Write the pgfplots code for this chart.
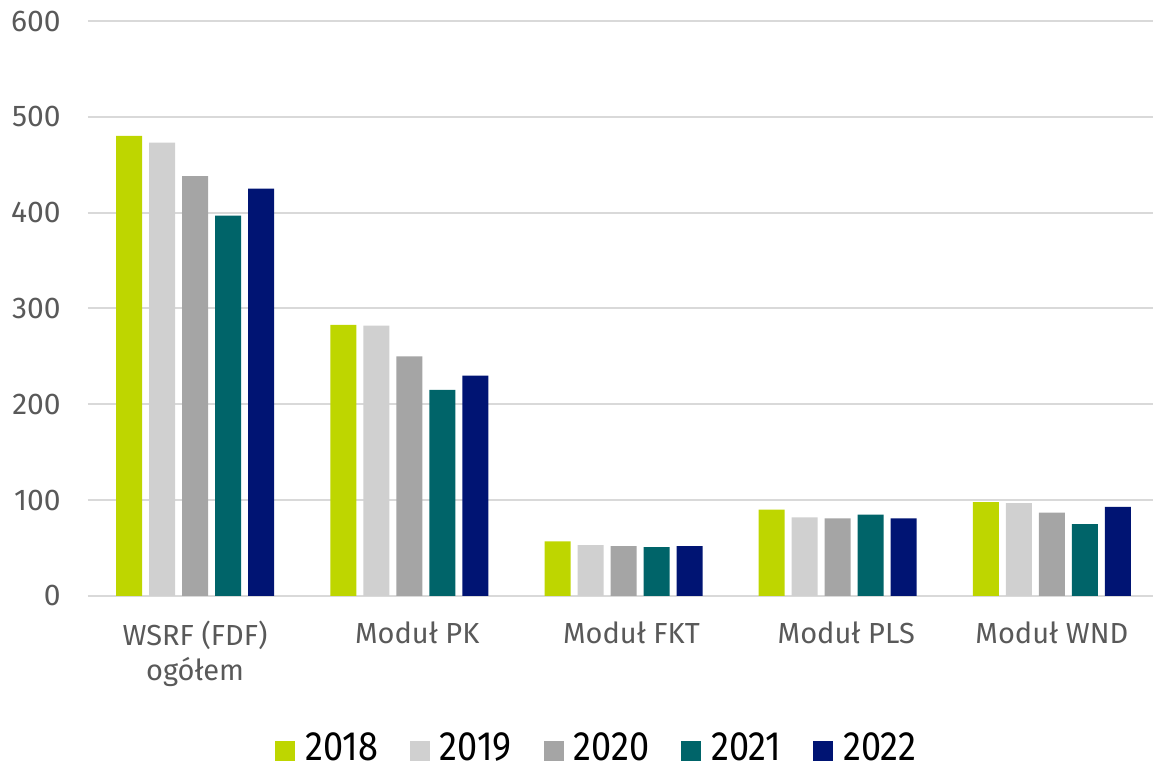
\documentclass[border=0pt]{standalone}
\usepackage{fontspec}
\setmainfont{Fira Sans}
\usepackage{graphicx}
\usepackage{pgfplots}
\pgfplotsset{compat=1.18}
\definecolor{c18}{HTML}{BED600}
\definecolor{c19}{HTML}{D0D0D0}
\definecolor{c20}{HTML}{A5A5A5}
\definecolor{c21}{HTML}{006469}
\definecolor{c22}{HTML}{001473}
\definecolor{gridc}{HTML}{D9D9D9}
\definecolor{tickc}{HTML}{595959}
\pgfplotsset{sq/.style={fill=#1, draw=none,
  legend image code/.code={\fill[#1] (0pt,-6.5pt) rectangle (10pt,3.5pt);}}}
\begin{document}
\begin{tikzpicture}
\begin{axis}[
  at={(0,0)}, anchor=south west,
  scale only axis, width=532.5pt, height=287.5pt,
  xmin=-0.5, xmax=4.472, ymin=0, ymax=600,
  ytick={0,100,...,600},
  xtick={0,1.037,2.037,3.04,4.0},
  xticklabels={{WSRF (FDF)\\ogółem},{Moduł PK},{Moduł FKT},{Moduł PLS},{Moduł WND}},
  axis line style={draw=none},
  major tick length=0pt,
  ymajorgrids, grid style={draw=gridc, line width=1pt},
  ybar=3.5pt, bar width=13pt,
  /pgf/number format/assume math mode=true,
  yticklabel style={font=\fontsize{15}{18}\selectfont, text=tickc, inner sep=0pt, anchor=east, xshift=-13.5pt},
  xticklabel style={font=\fontsize{14.5}{17.5}\selectfont, text=tickc, inner sep=0pt, anchor=north, yshift=-12.5pt, align=center},
  legend columns=5,
  legend style={at={(0.477,0)}, anchor=center, yshift=-76pt, draw=none, fill=none,
    font=\fontsize{20.5}{24}\selectfont, text=black,
    /tikz/every odd column/.append style={column sep=5pt},
    /tikz/every even column/.append style={column sep=16pt},
    nodes={inner sep=0pt}},
]
\addplot[sq=c18] coordinates {(0,480) (1,283) (2,57) (3,90) (4,98)};
\addlegendentry{\scalebox{0.88}[1]{2018}}
\addplot[sq=c19] coordinates {(0,473) (1,282) (2,53) (3,82) (4,97)};
\addlegendentry{\scalebox{0.88}[1]{2019}}
\addplot[sq=c20] coordinates {(0,438) (1,250) (2,52) (3,81) (4,87)};
\addlegendentry{\scalebox{0.88}[1]{2020}}
\addplot[sq=c21] coordinates {(0,397) (1,215) (2,51) (3,85) (4,75)};
\addlegendentry{\scalebox{0.88}[1]{2021}}
\addplot[sq=c22] coordinates {(0,425) (1,230) (2,52) (3,81) (4,93)};
\addlegendentry{\scalebox{0.88}[1]{2022}}
\end{axis}
\pgfresetboundingbox
\path (-44pt,-84pt) rectangle (532.5pt,298pt);
\end{tikzpicture}
\end{document}
